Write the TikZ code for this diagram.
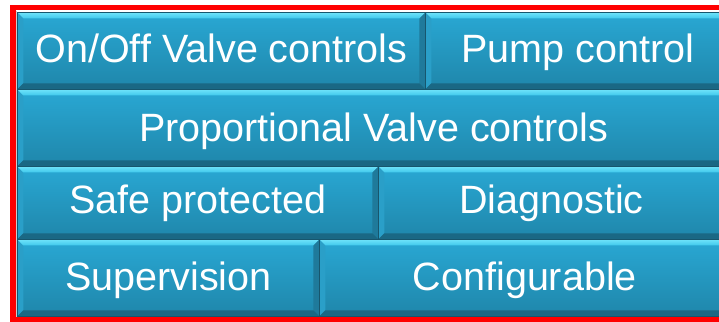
\documentclass[tikz,border=0pt]{standalone}
\usepackage{fontspec}
\setmainfont{Liberation Sans}
\usetikzlibrary{calc}
\definecolor{faceT}{HTML}{29A8D4}
\definecolor{faceB}{HTML}{1F86AA}
\definecolor{bevT}{HTML}{3FC8EC}
\definecolor{bevTT}{HTML}{6FE3FA}
\definecolor{bevL}{HTML}{2A9FC8}
\definecolor{bevR}{HTML}{1F7A9B}
\definecolor{bevB}{HTML}{1A6884}
\definecolor{edgeC}{HTML}{17566D}
\definecolor{frameRed}{HTML}{FF0000}
\tikzset{
  bev/.style={rectangle, anchor=north west, inner sep=0pt,
    top color=faceT, bottom color=faceB, draw=edgeC, line width=0.7pt,
    path picture={
      \coordinate (pnw) at (path picture bounding box.north west);
      \coordinate (pne) at (path picture bounding box.north east);
      \coordinate (psw) at (path picture bounding box.south west);
      \coordinate (pse) at (path picture bounding box.south east);
      \fill[bevL] (pnw) -- ($(pnw)+(6pt,-6pt)$) -- ($(psw)+(6pt,6pt)$) -- (psw) -- cycle;
      \fill[bevR] (pne) -- (pse) -- ($(pse)+(-6pt,6pt)$) -- ($(pne)+(-6pt,-6pt)$) -- cycle;
      \fill[bevB] (psw) -- (pse) -- ($(pse)+(-6pt,6pt)$) -- ($(psw)+(6pt,6pt)$) -- cycle;
      \shade[top color=bevTT, bottom color=bevT] (pnw) -- (pne) -- ($(pne)+(-6pt,-6pt)$) -- ($(pnw)+(6pt,-6pt)$) -- cycle;
    }},
  lbl/.style={anchor=base, inner sep=0pt, text=white,
    font=\fontsize{39.5}{40}\selectfont},
  redframe/.style={draw=frameRed, line width=5.5pt}
}
\begin{document}
\begin{tikzpicture}[x=1pt, y=-1pt]
\useasboundingbox[fill=white] (0,0) rectangle (719,321);
\draw[redframe] (745,7.5) -- (13,7.5) -- (13,319) -- (745,319);
\draw[gray!40, line width=0.8pt] (16.6,11) -- (16.6,316.6) -- (745,316.6);
% row 1
\node[bev, minimum width=408pt, minimum height=77pt] (b1) at (17,12) {};
\node[bev, minimum width=305pt, minimum height=77pt] (b2) at (425,12) {};
% row 2
\node[bev, minimum width=713pt, minimum height=77pt] (b3) at (17,89) {};
% row 3
\node[bev, minimum width=361pt, minimum height=73pt] (b4) at (17,166) {};
\node[bev, minimum width=352pt, minimum height=73pt] (b5) at (378,166) {};
% row 4
\node[bev, minimum width=302pt, minimum height=77pt] (b6) at (17,239) {};
\node[bev, minimum width=411pt, minimum height=77pt] (b7) at (319,239) {};
% labels
\node[lbl] (t1) at (b1.center |- 0,62.5) {On/Off Valve controls};
\node[lbl] (t2) at (b2.center |- 0,62.5) {Pump control};
\node[lbl] (t3) at (b3.center |- 0,141.5) {Proportional Valve controls};
\node[lbl] (t4) at (b4.center |- 0,213) {Safe protected};
\node[lbl] (t5) at ([xshift=-3pt]b5.center |- 0,213) {Diagnostic};
\node[lbl] (t6) at (b6.center |- 0,290) {Supervision};
\node[lbl] (t7) at (b7.center |- 0,290) {Configurable};
\end{tikzpicture}
\end{document}
